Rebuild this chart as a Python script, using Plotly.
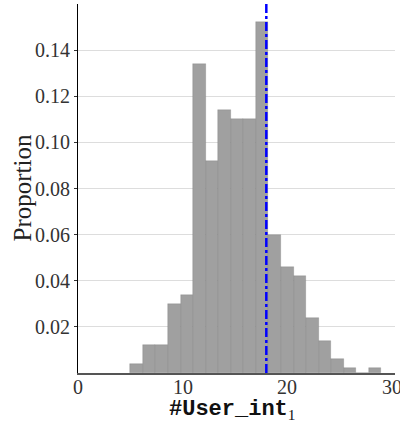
import plotly.graph_objects as go

# Histogram data: 20 bins from 5 to 29 (width 1.2)
bin_start = 5.0
bin_width = 1.2
proportions = [0.004, 0.012, 0.012, 0.030, 0.034, 0.134, 0.092, 0.114, 0.110, 0.110,
               0.152, 0.060, 0.046, 0.042, 0.024, 0.014, 0.006, 0.002, 0.0, 0.002]
ref_value = 18.0
y_ticks = [0.02, 0.04, 0.06, 0.08, 0.10, 0.12, 0.14]
y_tick_text = ["0.02", "0.04", "0.06", "0.08", "0.10", "0.12", "0.14"]
x_ticks = [0, 10, 20, 30]
x_tick_text = ["0", "10", "20", "30"]

centers = [bin_start + bin_width * (i + 0.5) for i in range(len(proportions))]

fig = go.Figure()
fig.add_trace(go.Bar(
    x=centers, y=proportions, width=[bin_width] * len(proportions),
    marker=dict(color="#a0a0a0", line=dict(color="rgba(90,90,90,0.35)", width=0.6)),
    showlegend=False, hoverinfo="skip",
))
fig.add_trace(go.Scatter(
    x=[ref_value, ref_value], y=[0, 0.16], mode="lines",
    line=dict(color="#0000ff", width=2.5, dash="dashdot"),
    showlegend=False, hoverinfo="skip", cliponaxis=False,
))

tick_font = dict(size=20, family="Liberation Serif", color="#333333")

fig.update_layout(
    width=400, height=423,
    margin=dict(l=78, r=5, t=4, b=50, autoexpand=False),
    plot_bgcolor="white", paper_bgcolor="white",
    bargap=0,
    font=dict(family="Liberation Serif", color="#333333"),
    xaxis=dict(
        range=[0, 30.3], tickvals=x_ticks, ticktext=["", "", "", ""],
        showgrid=False, zeroline=False, automargin=False,
        showline=True, linecolor="#555555", linewidth=2,
        ticks="",
    ),
    yaxis=dict(
        range=[0, 0.16], tickvals=y_ticks, ticktext=y_tick_text,
        showgrid=True, gridcolor="#dddddd", gridwidth=1, zeroline=False, automargin=False,
        showline=True, linecolor="#000000", linewidth=1.2,
        ticks="outside", ticklen=3, tickcolor="#333333",
        tickfont=tick_font,
    ),
)

# x tick labels as annotations so the last one may overflow the edge like the reference
for v, t in zip(x_ticks, x_tick_text):
    fig.add_annotation(x=v, y=0, xref="x", yref="paper", text=t, showarrow=False,
                       yanchor="top", yshift=-1, font=tick_font)

fig.add_annotation(
    x=0.5, y=0, xref="paper", yref="paper", xshift=-4, yshift=-22, yanchor="top", showarrow=False,
    text="<b>#User_int</b><sub><span style='font-family:Liberation Serif'>1</span></sub>",
    font=dict(family="Liberation Mono", size=22, color="#111111"),
)
fig.add_annotation(
    x=0, y=0.5, xref="paper", yref="paper", xshift=-56, xanchor="center", yanchor="middle",
    showarrow=False, textangle=-90, text="Proportion",
    font=dict(size=25, family="Liberation Serif", color="#222222"),
)

fig.write_html("out.html", config={"displayModeBar": False},
               post_script="document.body.style.margin='0';document.body.style.overflow='hidden';")
